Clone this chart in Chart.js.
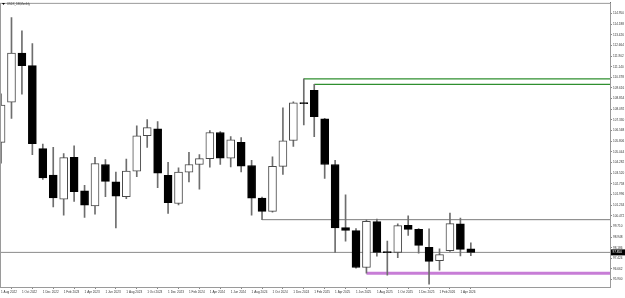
<!DOCTYPE html>
<html>
<head>
<meta charset="utf-8">
<script src="https://cdn.jsdelivr.net/npm/chart.js@4.4.1/dist/chart.umd.min.js"></script>
<style>
	html, body { margin: 0; padding: 0; background: #fff; }
</style>
</head>
<body>
<canvas id="myChart" width="625" height="298"></canvas>
<script>
var symbolTitle = "USDX_DB,Monthly";

var months = [
	"Aug 2022", "Sep 2022", "Oct 2022", "Nov 2022", "Dec 2022",
	"Jan 2023", "Feb 2023", "Mar 2023", "Apr 2023", "May 2023", "Jun 2023",
	"Jul 2023", "Aug 2023", "Sep 2023", "Oct 2023", "Nov 2023", "Dec 2023",
	"Jan 2024", "Feb 2024", "Mar 2024", "Apr 2024", "May 2024", "Jun 2024",
	"Jul 2024", "Aug 2024", "Sep 2024", "Oct 2024", "Nov 2024", "Dec 2024",
	"Jan 2025", "Feb 2025", "Mar 2025", "Apr 2025", "May 2025", "Jun 2025",
	"Jul 2025", "Aug 2025", "Sep 2025", "Oct 2025", "Nov 2025", "Dec 2025",
	"Jan 2026", "Feb 2026", "Mar 2026", "Apr 2026", "May 2026"
];

var opens = [105.72, 108.60, 112.12, 111.22, 105.27, 103.38, 101.66, 104.65, 102.25, 101.18, 104.14,
	102.90, 101.84, 103.66, 106.21, 106.69, 103.36, 101.35, 103.59, 104.14, 104.56, 106.43, 104.60,
	105.72, 104.07, 101.73, 100.78, 104.00, 105.86, 108.57, 109.45, 107.40, 104.14, 99.62, 99.41,
	96.77, 100.05, 97.85, 97.85, 99.79, 99.50, 98.21, 97.26, 97.97, 99.89, 98.11];

var highs = [109.19, 114.65, 113.70, 112.80, 105.60, 105.36, 104.92, 105.48, 102.65, 104.65, 104.49,
	103.59, 104.53, 106.90, 107.35, 107.21, 104.30, 103.90, 105.01, 104.85, 106.57, 106.50, 106.14,
	106.07, 104.44, 101.80, 104.68, 108.20, 108.62, 110.27, 109.88, 107.45, 104.44, 101.96, 99.55,
	100.17, 100.24, 98.65, 99.89, 100.47, 99.55, 99.53, 98.11, 100.67, 100.31, 98.54];

var lows = [104.23, 107.44, 109.17, 104.85, 103.07, 101.11, 100.52, 101.49, 100.35, 100.59, 101.84,
	99.60, 101.70, 103.26, 105.36, 102.48, 100.64, 101.25, 102.90, 102.37, 103.95, 104.14, 103.97,
	103.61, 100.52, 100.19, 100.72, 103.43, 105.43, 106.97, 106.14, 103.15, 97.85, 98.65, 96.72,
	96.36, 97.57, 96.22, 97.48, 99.06, 97.80, 95.58, 96.58, 97.92, 97.59, 97.62];

var closes = [108.39, 112.12, 111.22, 105.63, 103.17, 101.75, 104.63, 102.20, 101.23, 104.21, 102.93,
	101.87, 103.66, 106.19, 106.78, 103.52, 101.40, 103.59, 104.14, 104.56, 106.43, 104.60, 105.91,
	104.02, 101.73, 100.78, 104.00, 105.84, 108.55, 108.50, 107.56, 104.14, 99.60, 99.43, 96.77,
	100.07, 97.85, 97.83, 99.77, 99.50, 98.35, 97.21, 97.69, 99.91, 98.07, 97.85];

// price scale labels on the right
var yTicks = [114.950, 114.188, 113.426, 112.664, 111.902, 111.140, 110.378, 109.616, 108.854,
	108.092, 107.330, 106.568, 105.806, 105.044, 104.282, 103.520, 102.758, 101.996, 101.234,
	100.472, 99.710, 98.948, 98.186, 97.424, 96.662, 95.900, 95.138];

// horizontal levels: value and the month they start from
var levelValues = [110.27, 109.88, 100.19, 96.36];
var levelFrom = ["Jan 2025", "Feb 2025", "Sep 2024", "Jul 2025"];
var levelColors = ["#2f8f2f", "#2f8f2f", "#7a7a7a", "#c77dd6"];
var levelWidths = [1.3, 1.3, 1, 3];

var lastPrice = closes[closes.length - 1];

var X_MIN = -0.1;
var X_MAX = 58.33;
var Y_MIN = 95.372;
var Y_MAX = 115.708;
var tinyFont = { family: "'Liberation Sans', Arial, sans-serif", size: 3.1 };

var wickData = months.map(function (m, i) { return { x: i, y: [lows[i], highs[i]] }; });
var bodyData = months.map(function (m, i) { return { x: i, y: [opens[i], closes[i]] }; });
var bodyFill = months.map(function (m, i) { return closes[i] >= opens[i] ? "#ffffff" : "#000000"; });
var bodyLine = months.map(function (m, i) { return closes[i] >= opens[i] ? "#4a4a4a" : "#000000"; });

var datasets = [];
levelValues.forEach(function (v, k) {
	datasets.push({
		type: "line",
		data: [{ x: months.indexOf(levelFrom[k]), y: v }, { x: X_MAX, y: v }],
		borderColor: levelColors[k],
		borderWidth: levelWidths[k],
		pointRadius: 0,
		order: 3,
	});
});
datasets.push({
	type: "line",
	data: [{ x: X_MIN, y: lastPrice }, { x: X_MAX, y: lastPrice }],
	borderColor: "#8a8a8a",
	borderWidth: 1,
	pointRadius: 0,
	order: 3,
});
datasets.push({
	type: "bar",
	data: wickData,
	backgroundColor: "#6e6e6e",
	barThickness: 1,
	grouped: false,
	order: 2,
});
datasets.push({
	type: "bar",
	data: bodyData,
	backgroundColor: bodyFill,
	borderColor: bodyLine,
	borderWidth: 1,
	borderSkipped: false,
	barThickness: 8,
	minBarLength: 1,
	grouped: false,
	order: 1,
});

var extras = {
	id: "extras",
	afterDraw: function (chart) {
		var ctx = chart.ctx;
		var a = chart.chartArea;
		ctx.save();
		ctx.strokeStyle = "#9a9a9a";
		ctx.lineWidth = 1;
		ctx.strokeRect(a.left + 0.5, a.top + 0.5, a.right - a.left, a.bottom - a.top);
		// current price box
		var y = chart.scales.y.getPixelForValue(lastPrice);
		ctx.fillStyle = "#000";
		ctx.fillRect(a.right + 1, y - 3, 14, 6);
		ctx.fillStyle = "#fff";
		ctx.font = "3.1px 'Liberation Sans', Arial, sans-serif";
		ctx.textBaseline = "middle";
		ctx.fillText(lastPrice.toFixed(3), a.right + 2.5, y);
		// symbol caption
		ctx.fillStyle = "#000";
		ctx.beginPath();
		ctx.moveTo(2, 3);
		ctx.lineTo(5, 3);
		ctx.lineTo(3.5, 5);
		ctx.closePath();
		ctx.fill();
		ctx.fillStyle = "#333";
		ctx.font = "2.7px 'Liberation Sans', Arial, sans-serif";
		ctx.fillText(symbolTitle, 7, 4.2);
		ctx.restore();
	},
};

var ctx = document.getElementById("myChart").getContext("2d");
var myChart = new Chart(ctx, {
	type: "bar",
	data: { datasets: datasets },
	options: {
		responsive: false,
		animation: false,
		devicePixelRatio: 1,
		layout: { padding: 0 },
		plugins: {
			legend: { display: false },
			tooltip: { enabled: false },
		},
		scales: {
			x: {
				type: "linear",
				min: X_MIN,
				max: X_MAX,
				offset: false,
				afterBuildTicks: function (scale) {
					var t = [];
					for (var i = 0; i < months.length; i += 2) t.push({ value: i });
					scale.ticks = t;
				},
				afterFit: function (scale) { scale.height = 11; },
				ticks: {
					autoSkip: false,
					maxRotation: 0,
					align: "start",
					padding: 1,
					color: "#333",
					font: tinyFont,
					callback: function (v) { return "1 " + months[Math.round(v)]; },
				},
				grid: { drawOnChartArea: false, tickLength: 2, color: "#888" },
				border: { display: true, color: "#666" },
			},
			y: {
				position: "right",
				min: Y_MIN,
				max: Y_MAX,
				afterBuildTicks: function (scale) {
					scale.ticks = yTicks.filter(function (v) { return v >= Y_MIN && v <= Y_MAX; })
						.map(function (v) { return { value: v }; });
				},
				afterFit: function (scale) { scale.width = 15; },
				ticks: {
					autoSkip: false,
					crossAlign: "near",
					padding: 1,
					color: "#333",
					font: tinyFont,
					callback: function (v) { return Number(v).toFixed(3); },
				},
				grid: { drawOnChartArea: false, tickLength: 2, color: "#888" },
				border: { display: true, color: "#666" },
			},
		},
	},
	plugins: [extras],
});
</script>
</body>
</html>
